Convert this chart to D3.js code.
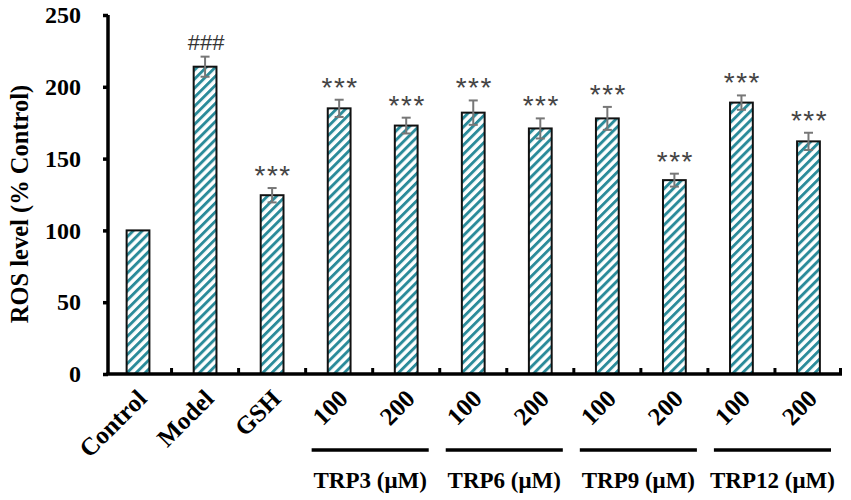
<!DOCTYPE html>
<html>
<head>
<meta charset="utf-8">
<script src="https://cdn.jsdelivr.net/npm/d3@7"></script>
<style>
  html, body { margin: 0; padding: 0; background: #fff; }
  svg { display: block; }
</style>
</head>
<body>
<svg id="chart" width="851" height="500"></svg>
<script>
const categories = ["Control", "Model", "GSH", "100", "200", "100", "200", "100", "200", "100", "200"];
const values = [100, 214, 124.5, 185, 173, 182, 171, 178, 135, 189, 162];
const errors = [0, 7, 5, 6, 5.5, 8.5, 7, 8, 4.5, 5, 6];
const marks = ["", "###", "***", "***", "***", "***", "***", "***", "***", "***", "***"];
const groupLabels = ["TRP3 (\u03bcM)", "TRP6 (\u03bcM)", "TRP9 (\u03bcM)", "TRP12 (\u03bcM)"];
const groupFirst = [3, 5, 7, 9];
const groupLast = [4, 6, 8, 10];
const yTicks = [0, 50, 100, 150, 200, 250];

const svg = d3.select("#chart");
const serif = "'Liberation Serif', 'Times New Roman', serif";
const sans = "'Liberation Sans', Arial, sans-serif";

const x = d3.scaleBand().domain(d3.range(categories.length)).range([104.5, 842]).paddingInner(0.66).paddingOuter(0.33);
const y = d3.scaleLinear().domain([0, 250]).range([374, 15]);
const step = x.step();

// hatch pattern
const defs = svg.append("defs");
const pat = defs.append("pattern")
  .attr("id", "hatch")
  .attr("patternUnits", "userSpaceOnUse")
  .attr("width", 6.4).attr("height", 10)
  .attr("patternTransform", "rotate(45)");
pat.append("rect").attr("width", 6.4).attr("height", 10).attr("fill", "#fff");
pat.append("rect").attr("x", 0).attr("width", 2.9).attr("height", 10).attr("fill", "#2b8b9a");

// bars
svg.append("g").selectAll("rect").data(values).join("rect")
  .attr("x", (d, i) => x(i))
  .attr("y", d => y(d))
  .attr("width", x.bandwidth())
  .attr("height", d => y(0) - y(d))
  .attr("fill", "url(#hatch)")
  .attr("stroke", "#111")
  .attr("stroke-width", 2);

// error bars
const eg = svg.append("g").attr("stroke", "#777").attr("stroke-width", 2);
values.forEach((v, i) => {
  if (!errors[i]) return;
  const cx = x(i) + x.bandwidth() / 2;
  eg.append("line").attr("x1", cx).attr("x2", cx).attr("y1", y(v + errors[i])).attr("y2", y(v - errors[i]));
  eg.append("line").attr("x1", cx - 4.5).attr("x2", cx + 4.5).attr("y1", y(v + errors[i])).attr("y2", y(v + errors[i]));
  eg.append("line").attr("x1", cx - 4.5).attr("x2", cx + 4.5).attr("y1", y(v - errors[i])).attr("y2", y(v - errors[i]));
});

// significance marks
svg.append("g").selectAll("text").data(marks).join("text")
  .attr("x", (d, i) => x(i) + x.bandwidth() / 2 + 1)
  .attr("y", (d, i) => y(values[i] + errors[i]) - (d === "###" ? 7 : 3))
  .attr("text-anchor", "middle")
  .attr("font-family", sans)
  .attr("font-size", d => d === "###" ? 22 : 28)
  .attr("letter-spacing", d => d === "###" ? 0 : 1.5)
  .attr("fill", d => d === "###" ? "#333" : "#444")
  .text(d => d);

// y axis
const yAxisX = 108;
const ya = svg.append("g").attr("transform", `translate(${yAxisX},0)`)
  .call(d3.axisLeft(y).tickValues(yTicks).tickSize(5).tickPadding(22).tickFormat(d3.format("d")));
ya.select(".domain").attr("stroke", "#000").attr("stroke-width", 3.5).attr("d", `M0,${y(250)}V${y(0)}`);
ya.selectAll(".tick line").attr("stroke", "#000").attr("stroke-width", 3.5);
ya.selectAll(".tick text").attr("font-family", serif).attr("font-weight", "bold").attr("font-size", 24).attr("fill", "#000");

// x axis
const xa = svg.append("g");
xa.append("line").attr("x1", yAxisX - 1.75).attr("x2", 842).attr("y1", y(0)).attr("y2", y(0))
  .attr("stroke", "#000").attr("stroke-width", 3.5);
d3.range(1, categories.length).forEach(i => {
  const bx = x(0) - x.step() * x.paddingOuter() + i * step;
  xa.append("line").attr("x1", bx).attr("x2", bx).attr("y1", y(0)).attr("y2", y(0) - 6)
    .attr("stroke", "#000").attr("stroke-width", 3);
});
xa.append("line").attr("x1", 840.5).attr("x2", 840.5).attr("y1", y(0)).attr("y2", y(0) - 6)
  .attr("stroke", "#000").attr("stroke-width", 3);

// x tick labels
svg.append("g").selectAll("text").data(categories).join("text")
  .attr("transform", (d, i) => `translate(${x(i) + x.bandwidth() / 2 + 4},${394}) rotate(-45)`)
  .attr("text-anchor", "end")
  .attr("dy", "0.35em")
  .attr("font-family", serif).attr("font-weight", "bold").attr("font-size", 25)
  .text(d => d);

// group lines & labels
const gg = svg.append("g");
groupLabels.forEach((lab, k) => {
  const x1 = x(groupFirst[k]) - x.step() * x.paddingInner() / 2 + 6;
  const x2 = x(groupLast[k]) + x.bandwidth() + x.step() * x.paddingInner() / 2 - 11;
  gg.append("line").attr("x1", x1).attr("x2", x2).attr("y1", 450).attr("y2", 450)
    .attr("stroke", "#000").attr("stroke-width", 3.3);
  gg.append("text").attr("x", (x1 + x2) / 2).attr("y", 488)
    .attr("text-anchor", "middle")
    .attr("font-family", serif).attr("font-weight", "bold").attr("font-size", 23)
    .text(lab);
});

// y label
svg.append("text")
  .attr("transform", `translate(28,204) rotate(-90)`)
  .attr("text-anchor", "middle")
  .attr("font-family", serif).attr("font-weight", "bold").attr("font-size", 24.5)
  .text("ROS level (% Control)");
</script>
</body>
</html>
